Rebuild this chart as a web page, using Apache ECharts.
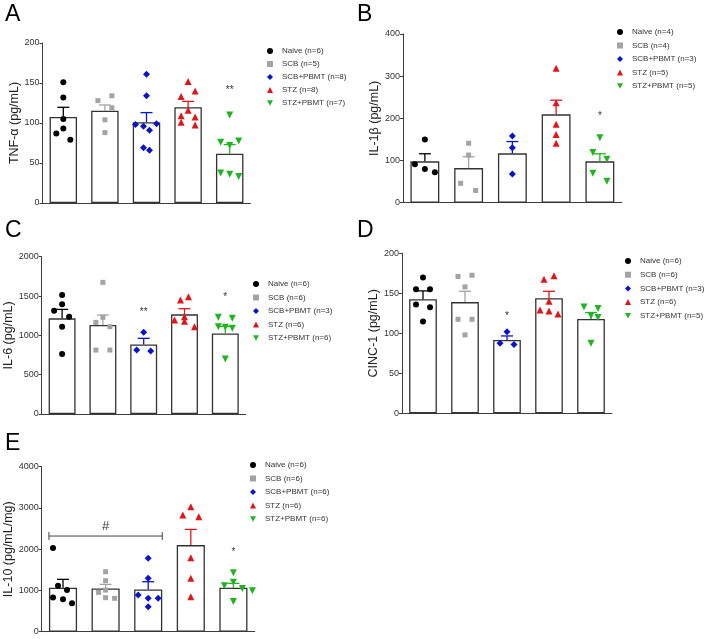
<!DOCTYPE html>
<html><head><meta charset="utf-8">
<script src="https://cdn.jsdelivr.net/npm/echarts@6/dist/echarts.min.js"></script>
<style>html,body{margin:0;padding:0;background:#fff}#c{width:708px;height:639px}</style>
</head><body><div id="c"></div><script>
const groups = ['Naive','SCB','SCB+PBMT','STZ','STZ+PBMT'];

// ---- Panel A: TNF-α ----
const aMeans = [107.5, 115.4, 101.0, 119.6, 61.7];
const aSems = [12.1, 7.1, 12.0, 7.4, 11.3];
const aNaive = [151, 132, 105, 93, 87, 79];
const aSCB = [134, 128, 119, 104, 88];
const aSCBPBMT = [161, 134, 99, 98, 96, 91, 69, 66];
const aSTZ = [152, 140, 133, 116, 109, 107.5, 101, 97.5];
const aSTZPBMT = [110, 77.5, 76, 72, 37.5, 36, 33];
const aLegend = ['Naive (n=6)','SCB (n=5)','SCB+PBMT (n=8)','STZ (n=8)','STZ+PBMT (n=7)'];
const aTicks = [0, 50, 100, 150, 200];
const aSig = [[4, 141, '**']];

// ---- Panel B: IL-1β ----
const bMeans = [98, 82, 117, 209.5, 98];
const bSems = [18, 27, 28, 33.5, 18];
const bNaive = [150, 91, 80, 72];
const bSCB = [141, 113, 46, 29];
const bSCBPBMT = [158, 130, 68];
const bSTZ = [319, 237, 186, 162, 141];
const bSTZPBMT = [154, 119, 103, 70, 51];
const bLegend = ['Naive (n=4)','SCB (n=4)','SCB+PBMT (n=3)','STZ (n=5)','STZ+PBMT (n=5)'];
const bTicks = [0, 100, 200, 300, 400];
const bSig = [[4, 204, '*']];

// ---- Panel C: IL-6 ----
const cMeans = [1216, 1131, 885, 1267, 1025];
const cSems = [114, 127, 77, 72, 89];
const cNaive = [1513, 1394, 1313, 1237, 1110, 763];
const cSCB = [1674, 1229, 1165, 1110, 813, 813];
const cSCBPBMT = [1038, 813, 800];
const cSTZ = [1492, 1449, 1237, 1195, 1180, 1110];
const cSTZPBMT = [1229, 1216, 1110, 1102, 1090, 699];
const cLegend = ['Naive (n=6)','SCB (n=6)','SCB+PBMT (n=3)','STZ (n=6)','STZ+PBMT (n=6)'];
const cTicks = [0, 500, 1000, 1500, 2000];
const cSig = [[2, 1300, '**'], [4, 1483, '*']];

// ---- Panel D: CINC-1 ----
const dMeans = [142.5, 139, 91.7, 143.8, 118];
const dSems = [10.5, 13.5, 5, 8.7, 8];
const dNaive = [169.6, 155, 155, 136, 132.5, 114.6];
const dSCB = [171, 172.5, 158, 117.5, 117.5, 98];
const dSCBPBMT = [102, 87.5, 86];
const dSTZ = [167.5, 172, 140, 129, 128, 124];
const dSTZPBMT = [133, 131, 122, 119.6, 87.5];
const dLegend = ['Naive (n=6)','SCB (n=6)','SCB+PBMT (n=3)','STZ (n=6)','STZ+PBMT (n=5)'];
const dTicks = [0, 50, 100, 150, 200];
const dSig = [[2, 121.7, '*']];

// ---- Panel E: IL-10 ----
const eMeans = [1067, 1050, 1026, 2100, 1067];
const eSems = [202, 97, 186, 380, 105];
const eNaive = [2028, 1115, 1010, 832, 784, 687];
const eSCB = [1454, 1236, 1010, 954, 824, 808];
const eSCBPBMT = [1778, 1293, 889, 808, 808, 606];
const eSTZ = [3030, 2828, 2788, 1794, 1293, 848];
const eSTZPBMT = [1430, 1200, 1115, 1050, 990, 730];
const eLegend = ['Naive (n=6)','SCB (n=6)','SCB+PBMT (n=6)','STZ (n=6)','STZ+PBMT (n=6)'];
const eTicks = [0, 1000, 2000, 3000, 4000];
const eSig = [[4, 1923, '*']];
const eBracket = [[0, 2, 2319, 2561, '#']];

// ---- layout (pixel jitter of dots, grids, styles) ----
const jitA = [[0,0,0,0,-7,7],[7,-7,7,0,0],[0,0,10,-11,-3,3,-3,3],[0,7,-7,0,-7,7,-7,7],[0,9,-9,0,-9,0,9]];
const jitB = [[0,-10,0,10],[0,0,-8,7],[0,0,0],[0,0,0,0,0],[0,-7,7,-7,7]];
const jitC = [[0,0,-8,7,0,0],[0,0,-7,7,-7,7],[0,-7,7],[4,-4,0,-10,0,10],[-7,7,-7,0,7,0]];
const jitD = [[0,-7,7,-7,7,0],[-7,7,0,-7,7,0],[0,-7,7],[-5,5,0,-9,0,9],[-7,7,0,7,0]];
const jitE = [[-10,-5,4,-10,0,9],[0,0,0,-7,0,9],[0,0,-10,0,10,0],[0,-8,8,0,0,0],[0,0,-9,9,19,0]];

const FONT = 'Liberation Sans, Arial, sans-serif';
const colors = ['#000000', '#a3a3a3', '#0a14c8', '#e0161b', '#20b520'];
const symbols = ['circle', 'rect', 'diamond', 'triangle', 'path://M0,0 L10,0 L5,9 Z'];
const symSizes = [6, 5, 7, 7, 7];

const panels = [
  {name:'TNF-α (pg/mL)', means:aMeans, sems:aSems, pts:[aNaive,aSCB,aSCBPBMT,aSTZ,aSTZPBMT], jit:jitA, legend:aLegend, ticks:aTicks, sig:aSig, br:[],
   grid:{left:42.5, top:43, width:208, height:160}, lg:{left:267, top:47, gap:5}, letter:{t:'A', left:5, top:3}},
  {name:'IL-1β (pg/mL)', means:bMeans, sems:bSems, pts:[bNaive,bSCB,bSCBPBMT,bSTZ,bSTZPBMT], jit:jitB, legend:bLegend, ticks:bTicks, sig:bSig, br:[],
   grid:{left:403, top:34, width:218.75, height:168.7}, lg:{left:617, top:28, gap:5.5}, letter:{t:'B', left:357, top:3}},
  {name:'IL-6 (pg/mL)', means:cMeans, sems:cSems, pts:[cNaive,cSCB,cSCBPBMT,cSTZ,cSTZPBMT], jit:jitC, legend:cLegend, ticks:cTicks, sig:cSig, br:[],
   grid:{left:41.7, top:256.7, width:204, height:157.3}, lg:{left:253, top:280, gap:5.5}, letter:{t:'C', left:5, top:219}},
  {name:'CINC-1 (pg/mL)', means:dMeans, sems:dSems, pts:[dNaive,dSCB,dSCBPBMT,dSTZ,dSTZPBMT], jit:jitD, legend:dLegend, ticks:dTicks, sig:dSig, br:[],
   grid:{left:402, top:253.3, width:210, height:160}, lg:{left:625, top:257, gap:5.7}, letter:{t:'D', left:357, top:219}},
  {name:'IL-10 (pg/mL/mg)', means:eMeans, sems:eSems, pts:[eNaive,eSCB,eSCBPBMT,eSTZ,eSTZPBMT], jit:jitE, legend:eLegend, ticks:eTicks, sig:eSig, br:eBracket,
   grid:{left:41.7, top:466.7, width:213, height:165}, lg:{left:250, top:461, gap:5.5}, letter:{t:'E', left:5, top:432}}
];

const option = {
  animation:false,
  backgroundColor:'#fff',
  textStyle:{fontFamily:FONT},
  title:[], grid:[], xAxis:[], yAxis:[], legend:[], series:[]
};

panels.forEach((p, k) => {
  option.title.push({text:p.letter.t, left:p.letter.left, top:p.letter.top, padding:0,
    textStyle:{fontSize:23, fontWeight:'normal', color:'#000', fontFamily:FONT}});
  option.grid.push(Object.assign({outerBoundsMode:'none', containLabel:false}, p.grid));
  option.xAxis.push({type:'category', gridIndex:k, data:groups,
    axisLine:{lineStyle:{color:'#3c3c3c', width:1}},
    axisTick:{alignWithLabel:true, length:4, lineStyle:{color:'#3c3c3c'}},
    axisLabel:{show:false}, splitLine:{show:false}});
  const t = p.ticks;
  option.yAxis.push({type:'value', gridIndex:k, min:t[0], max:t[t.length-1], interval:t[1]-t[0],
    name:p.name, nameLocation:'middle', nameGap:21,
    nameTextStyle:{fontSize:12.5, color:'#222', fontFamily:FONT},
    axisLine:{show:true, lineStyle:{color:'#3c3c3c', width:1}},
    axisTick:{show:true, length:3, lineStyle:{color:'#3c3c3c'}},
    axisLabel:{fontSize:9, color:'#333', margin:3, fontFamily:FONT, formatter:v => String(v)},
    splitLine:{show:false}});
  option.legend.push({orient:'vertical', left:p.lg.left, top:p.lg.top, padding:0,
    itemWidth:6, itemHeight:6, itemGap:p.lg.gap, selectedMode:false,
    data:p.legend,
    textStyle:{fontSize:8, lineHeight:8, color:'#333', fontFamily:FONT, padding:[0,0,0,4]}});
  // bars
  option.series.push({type:'bar', xAxisIndex:k, yAxisIndex:k, data:p.means, barWidth:'66%',
    itemStyle:{color:'#fff', borderColor:'#333', borderWidth:1.3}, z:1, silent:true});
  // error bars (upper SEM only)
  option.series.push({type:'custom', xAxisIndex:k, yAxisIndex:k, z:3, silent:true,
    data:p.means.map((m,i)=>[i, m, p.sems[i]]),
    renderItem:(params, api) => {
      const i = api.value(0), m = api.value(1), s = api.value(2);
      const p0 = api.coord([i, m]), p1 = api.coord([i, m + s]);
      const c = colors[i], hw = 6;
      return {type:'group', children:[
        {type:'line', shape:{x1:p0[0], y1:p0[1], x2:p1[0], y2:p1[1]}, style:{stroke:c, lineWidth:1.3}},
        {type:'line', shape:{x1:p1[0]-hw, y1:p1[1], x2:p1[0]+hw, y2:p1[1]}, style:{stroke:c, lineWidth:1.3}}
      ]};
    }});
  // dots
  p.pts.forEach((vals, g) => {
    option.series.push({type:'scatter', name:p.legend[g], xAxisIndex:k, yAxisIndex:k, z:4,
      symbol:symbols[g], symbolSize:symSizes[g], itemStyle:{color:colors[g], opacity:1},
      data:vals.map((v, j) => ({value:[g, v], symbolOffset:[p.jit[g][j] || 0, 0]}))});
  });
  // significance marks & bracket
  option.series.push({type:'custom', xAxisIndex:k, yAxisIndex:k, z:5, silent:true,
    data:p.sig,
    renderItem:(params, api) => {
      const pt = api.coord([api.value(0), api.value(1)]);
      return {type:'text', x:pt[0], y:pt[1], style:{text:p.sig[params.dataIndex][2], fill:'#333',
        fontSize:10, fontFamily:FONT, align:'center', verticalAlign:'middle'}};
    }});
  if (p.br.length) {
    option.series.push({type:'custom', xAxisIndex:k, yAxisIndex:k, z:5, silent:true,
      data:p.br.map(b => [b[0], b[1], b[2], b[3]]),
      renderItem:(params, api) => {
        const a = api.value(0), b = api.value(1), y = api.value(2), ty = api.value(3);
        const band = api.size([1, 0])[0], hb = band * 0.33;
        const pa = api.coord([a, y]), pb = api.coord([b, y]);
        const pt = api.coord([(a + b) / 2, ty]);
        const st = {stroke:'#444', lineWidth:1};
        return {type:'group', children:[
          {type:'line', shape:{x1:pa[0]-hb, y1:pa[1], x2:pb[0]+hb, y2:pb[1]}, style:st},
          {type:'line', shape:{x1:pa[0]-hb, y1:pa[1]-4, x2:pa[0]-hb, y2:pa[1]+4}, style:st},
          {type:'line', shape:{x1:pb[0]+hb, y1:pb[1]-4, x2:pb[0]+hb, y2:pb[1]+4}, style:st},
          {type:'text', x:pt[0], y:pt[1], style:{text:p.br[params.dataIndex][4], fill:'#333', fontSize:13,
            fontFamily:FONT, align:'center', verticalAlign:'middle'}}
        ]};
      }});
  }
});

const chart = echarts.init(document.getElementById('c'), null, {renderer:'canvas'});
chart.setOption(option);
</script></body></html>
